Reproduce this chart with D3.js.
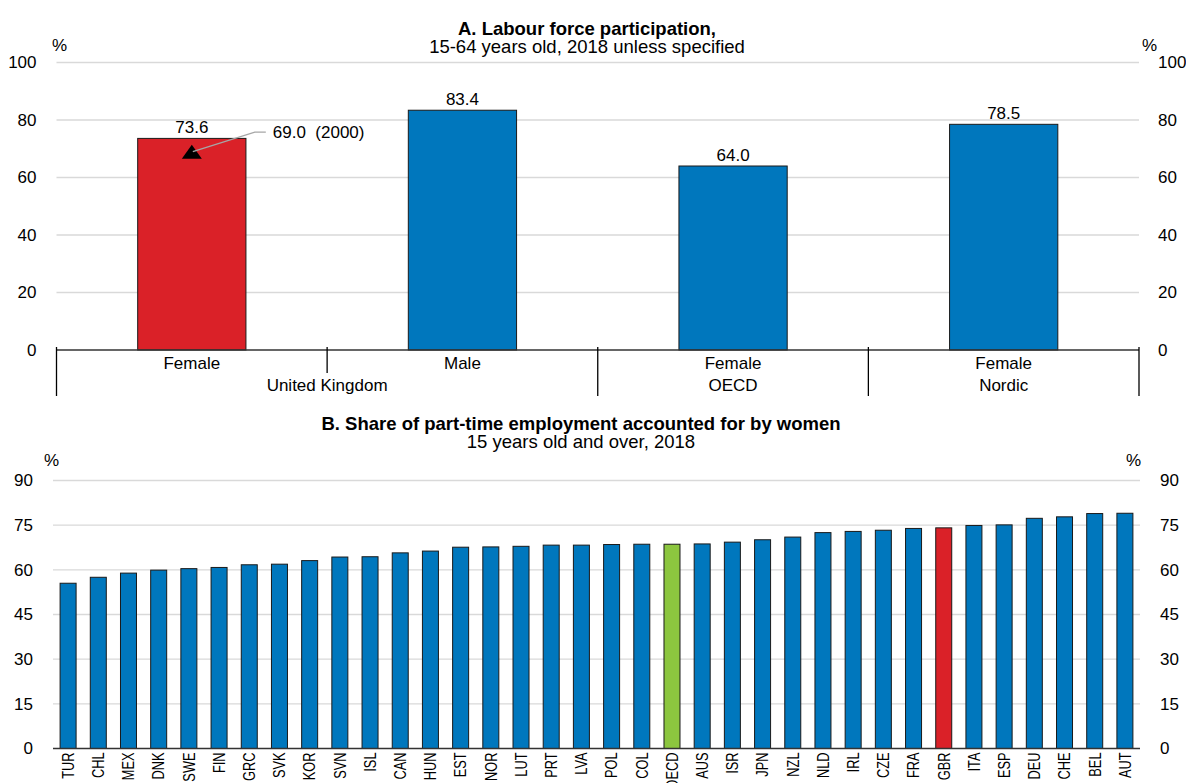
<!DOCTYPE html>
<html>
<head>
<meta charset="utf-8">
<script src="https://cdn.jsdelivr.net/npm/d3@7"></script>
<style>
  html, body { margin: 0; padding: 0; background: #fff; }
  svg { display: block; font-family: "Liberation Sans", Arial, sans-serif; }
  .pre { white-space: pre; }
</style>
</head>
<body>
<svg id="chart" width="1186" height="783"></svg>
<script>
// ---------- Panel A data ----------
const groupsA = ["United Kingdom", "United Kingdom", "OECD", "Nordic"];
const sexA = ["Female", "Male", "Female", "Female"];
const valuesA = [73.6, 83.4, 64.0, 78.5];
const colorsA = ["red", "blue", "blue", "blue"];
const marker2000 = 69.0;
const markerLabel = "69.0  (2000)";
const ticksA = [0, 20, 40, 60, 80, 100];
const titleA = ["A. Labour force participation,", "15-64 years old, 2018 unless specified"];

// ---------- Panel B data ----------
const countriesB = ["TUR","CHL","MEX","DNK","SWE","FIN","GRC","SVK","KOR","SVN","ISL","CAN","HUN","EST","NOR","LUT","PRT","LVA","POL","COL","OECD","AUS","ISR","JPN","NZL","NLD","IRL","CZE","FRA","GBR","ITA","ESP","DEU","CHE","BEL","AUT"];
const valuesB = [55.5,57.5,58.9,59.9,60.4,60.8,61.7,61.9,63.1,64.3,64.4,65.7,66.3,67.6,67.7,67.9,68.3,68.3,68.5,68.6,68.6,68.7,69.3,70.1,71.0,72.5,72.9,73.3,73.9,74.1,74.9,75.1,77.3,77.8,78.9,79.0];
const ticksB = [0, 15, 30, 45, 60, 75, 90];
const titleB = ["B. Share of part-time employment accounted for by women", "15 years old and over, 2018"];

const palette = { blue: "#0077BD", red: "#DA2128", green: "#8CC63F" };
const colorB = c => c === "OECD" ? palette.green : (c === "GBR" ? palette.red : palette.blue);

const svg = d3.select("#chart");
const FS = 17;
const TFS = 18.5;
const titleX = 587;

function drawTitle(g, lines, x, y, gap) {
  const t = g.append("text").attr("x", x).attr("y", y).attr("text-anchor", "middle").attr("font-size", TFS);
  t.append("tspan").attr("x", x).attr("font-weight", "bold").text(lines[0]);
  t.append("tspan").attr("x", x).attr("dy", gap).text(lines[1]);
}

// ================= PANEL A =================
const ax0 = 56.5, ax1 = 1139;
const xA = d3.scaleBand().domain(d3.range(valuesA.length)).range([ax0, ax1]).paddingInner(0.6).paddingOuter(0.3);
const yA = d3.scaleLinear().domain([0, 100]).range([350, 62.5]);

const gA = svg.append("g");
drawTitle(gA, titleA, titleX, 35, 18);
gA.append("text").attr("x", 52).attr("y", 51).attr("font-size", FS).text("%");
gA.append("text").attr("x", 1142).attr("y", 51).attr("font-size", FS).text("%");

gA.append("g").selectAll("line").data(ticksA.filter(d => d > 0)).join("line")
  .attr("x1", ax0).attr("x2", ax1).attr("y1", d => yA(d)).attr("y2", d => yA(d))
  .attr("stroke", "#d9d9d9").attr("stroke-width", 1.3);

const styleTicks = g => g.selectAll("text").attr("font-size", FS).attr("fill", "#000").attr("font-family", "Liberation Sans, Arial");
gA.append("g").attr("transform", `translate(${ax0},0)`)
  .call(d3.axisLeft(yA).tickValues(ticksA).tickSize(0).tickPadding(20))
  .call(g => g.select(".domain").remove()).call(styleTicks);
gA.append("g").attr("transform", `translate(${ax1},0)`)
  .call(d3.axisRight(yA).tickValues(ticksA).tickSize(0).tickPadding(19))
  .call(g => g.select(".domain").remove()).call(styleTicks);

gA.append("g").selectAll("rect").data(valuesA).join("rect")
  .attr("x", (d, i) => xA(i)).attr("width", xA.bandwidth())
  .attr("y", d => yA(d)).attr("height", d => yA(0) - yA(d))
  .attr("fill", (d, i) => palette[colorsA[i]]).attr("stroke", "#1a1a1a").attr("stroke-width", 1);

gA.append("g").selectAll("text").data(valuesA).join("text")
  .attr("x", (d, i) => xA(i) + xA.bandwidth() / 2).attr("y", d => yA(d) - 5)
  .attr("text-anchor", "middle").attr("font-size", FS).text(d => d.toFixed(1));

gA.append("line").attr("x1", ax0).attr("x2", ax1).attr("y1", yA(0)).attr("y2", yA(0))
  .attr("stroke", "#333").attr("stroke-width", 1.3);

const stepA = xA.step();
const sepLong = [0, 2, 3, 4];
const sepShort = [1];
gA.append("g").selectAll("line").data(sepLong).join("line")
  .attr("x1", i => ax0 + i * stepA).attr("x2", i => ax0 + i * stepA)
  .attr("y1", yA(0) - 3).attr("y2", 396).attr("stroke", "#000").attr("stroke-width", 1.3);
gA.append("g").selectAll("line").data(sepShort).join("line")
  .attr("x1", i => ax0 + i * stepA).attr("x2", i => ax0 + i * stepA)
  .attr("y1", yA(0) - 3).attr("y2", 373).attr("stroke", "#000").attr("stroke-width", 1.3);

gA.append("g").selectAll("text").data(sexA).join("text")
  .attr("x", (d, i) => xA(i) + xA.bandwidth() / 2).attr("y", 369)
  .attr("text-anchor", "middle").attr("font-size", FS).text(d => d);
const groupNames = Array.from(new Set(groupsA));
gA.append("g").selectAll("text").data(groupNames).join("text")
  .attr("x", g => {
    const idx = groupsA.map((v, i) => v === g ? i : -1).filter(i => i >= 0);
    return (xA(idx[0]) + xA(idx[idx.length - 1]) + xA.bandwidth()) / 2;
  })
  .attr("y", 391).attr("text-anchor", "middle").attr("font-size", FS).text(d => d);

// 2000 marker
const mx = xA(0) + xA.bandwidth() / 2, my = yA(marker2000);
gA.append("path").attr("d", `M${mx},${my - 7}L${mx + 10},${my + 7}L${mx - 10},${my + 7}Z`).attr("fill", "#000");
const ly = yA(75.8);
gA.append("polyline")
  .attr("points", `${mx + 1},${my} ${mx + 63},${ly} ${mx + 74},${ly}`)
  .attr("fill", "none").attr("stroke", "#a6a6a6").attr("stroke-width", 1.3);
gA.append("text").attr("class", "pre").attr("x", mx + 81).attr("y", ly + 6).attr("font-size", FS).text(markerLabel);

// ================= PANEL B =================
const bx0 = 53, bx1 = 1140;
const xB = d3.scaleBand().domain(countriesB).range([bx0, bx1]).paddingInner(0.47).paddingOuter(0.235);
const yB = d3.scaleLinear().domain([0, 90]).range([748.5, 480.5]);
const gB = svg.append("g");

drawTitle(gB, titleB, titleX - 6, 429.5, 18);
gB.append("text").attr("x", 44).attr("y", 466).attr("font-size", FS).text("%");
gB.append("text").attr("x", 1126).attr("y", 466).attr("font-size", FS).text("%");

gB.append("g").selectAll("line").data(ticksB.filter(d => d > 0)).join("line")
  .attr("x1", bx0).attr("x2", bx1).attr("y1", d => yB(d)).attr("y2", d => yB(d))
  .attr("stroke", "#d9d9d9").attr("stroke-width", 1.3);

gB.append("g").attr("transform", `translate(${bx0},0)`)
  .call(d3.axisLeft(yB).tickValues(ticksB).tickSize(0).tickPadding(20))
  .call(g => g.select(".domain").remove()).call(styleTicks);
gB.append("g").attr("transform", `translate(${bx1},0)`)
  .call(d3.axisRight(yB).tickValues(ticksB).tickSize(0).tickPadding(20))
  .call(g => g.select(".domain").remove()).call(styleTicks);

gB.append("g").selectAll("rect").data(countriesB).join("rect")
  .attr("x", d => xB(d)).attr("width", xB.bandwidth())
  .attr("y", (d, i) => yB(valuesB[i])).attr("height", (d, i) => yB(0) - yB(valuesB[i]))
  .attr("fill", d => colorB(d)).attr("stroke", "#1a1a1a").attr("stroke-width", 1);

gB.append("line").attr("x1", bx0).attr("x2", bx1).attr("y1", yB(0)).attr("y2", yB(0))
  .attr("stroke", "#333").attr("stroke-width", 1.3);

gB.append("g").selectAll("text").data(countriesB).join("text")
  .attr("transform", d => `translate(${xB(d) + xB.bandwidth() / 2 + 5.8},${yB(0) + 4}) rotate(-90) scale(0.8,1)`)
  .attr("text-anchor", "end").attr("font-size", 16).text(d => d);
</script>
</body>
</html>
